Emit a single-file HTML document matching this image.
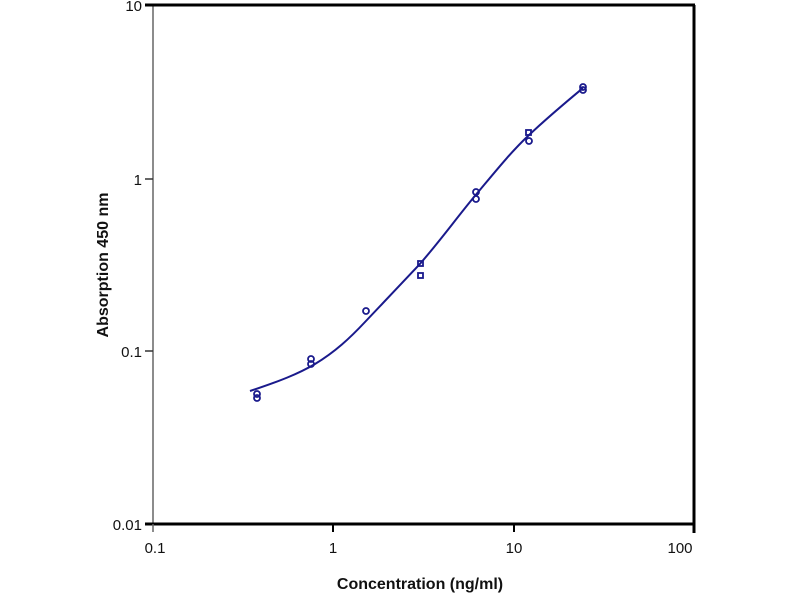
<!DOCTYPE html><html><head><style>body{margin:0;background:#fff}</style></head><body>
<svg width="800" height="600" xmlns="http://www.w3.org/2000/svg" font-family="Liberation Sans, sans-serif">
<line x1="153" y1="5" x2="153" y2="524" stroke="#666" stroke-width="1.5"/>
<line x1="145" y1="5" x2="695" y2="5" stroke="#000" stroke-width="3"/>
<line x1="145" y1="524" x2="695" y2="524" stroke="#000" stroke-width="3"/>
<line x1="694" y1="5" x2="694" y2="533" stroke="#000" stroke-width="3"/>
<line x1="145" y1="179" x2="153" y2="179" stroke="#333" stroke-width="1.5"/>
<line x1="145" y1="351" x2="153" y2="351" stroke="#333" stroke-width="1.5"/>
<line x1="333" y1="524" x2="333" y2="532" stroke="#000" stroke-width="2"/>
<line x1="514" y1="524" x2="514" y2="532" stroke="#000" stroke-width="2"/>
<line x1="153" y1="524" x2="153" y2="532" stroke="#666" stroke-width="1.5"/>
<g font-size="15" fill="#111" text-anchor="end">
<text x="142" y="11">10</text><text x="142" y="185">1</text><text x="142" y="357">0.1</text><text x="142" y="530">0.01</text></g>
<g font-size="15" fill="#111" text-anchor="middle">
<text x="155" y="553">0.1</text><text x="333" y="553">1</text><text x="514" y="553">10</text><text x="680" y="553">100</text></g>
<text x="420" y="589" font-size="16" font-weight="bold" text-anchor="middle" fill="#111">Concentration (ng/ml)</text>
<text transform="translate(108,265) rotate(-90)" font-size="16" font-weight="bold" text-anchor="middle" fill="#111">Absorption 450 nm</text>
<path d="M250,391 C280,381 298,374 315,364 C335,352 350,338 365,322 C385,301 400,285 419,265 C440,241 455,220 474,197 C495,172 510,153 528,136 C548,117 565,103 583,88" fill="none" stroke="#1a1a8c" stroke-width="2"/>
<g fill="none" stroke="#1a1a8c" stroke-width="1.8">
<circle cx="257" cy="394" r="3"/><circle cx="257" cy="398" r="3"/>
<circle cx="311" cy="359" r="3"/><circle cx="311" cy="364" r="3"/>
<circle cx="366" cy="311" r="3"/>
<rect x="418" y="261" width="5" height="5"/><rect x="418" y="273" width="5" height="5"/>
<circle cx="476" cy="192" r="3"/><circle cx="476" cy="199" r="3"/>
<rect x="526" y="130" width="5" height="5"/><circle cx="529" cy="141" r="3"/>
<circle cx="583" cy="87" r="3"/><circle cx="583" cy="90" r="3"/>
</g>
</svg></body></html>
